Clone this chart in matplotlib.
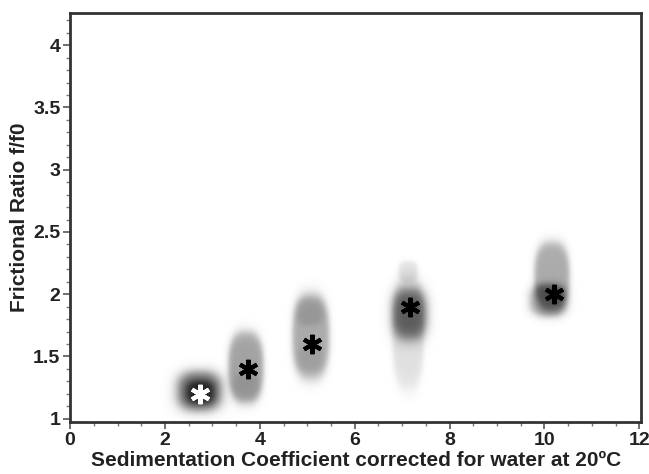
import numpy as np
import matplotlib.pyplot as plt
from matplotlib.ticker import MultipleLocator

# Peak positions (asterisks)
peak_s = [2.74, 3.76, 5.10, 7.17, 10.20]
peak_ff0 = [1.20, 1.40, 1.60, 1.90, 2.00]
peak_color = ['white', 'black', 'black', 'black', 'black']

# Grey density patches: centre s, centre f/f0, half width, half height, darkness, edge softness
blob_s = [2.72, 2.74, 3.70, 3.70, 5.07, 5.05, 5.05, 7.12, 7.12, 7.15, 10.15, 10.08]
blob_ff0 = [1.22, 1.21, 1.41, 1.25, 1.66, 1.86, 1.48, 1.70, 2.18, 1.84, 2.14, 1.95]
blob_w = [0.50, 0.32, 0.40, 0.30, 0.42, 0.32, 0.30, 0.36, 0.22, 0.40, 0.40, 0.42]
blob_h = [0.17, 0.10, 0.31, 0.12, 0.37, 0.12, 0.12, 0.50, 0.09, 0.22, 0.30, 0.14]
blob_level = [0.58, 0.30, 0.36, 0.06, 0.33, 0.08, 0.05, 0.12, 0.09, 0.52, 0.33, 0.37]
blob_soft = [0.14, 0.16, 0.08, 0.10, 0.08, 0.12, 0.12, 0.08, 0.10, 0.14, 0.08, 0.12]

xlim = (0, 12.04)
ylim = (0.975, 4.26)

fig = plt.figure(figsize=(6.49, 4.74), dpi=100)
ax = fig.add_axes([0.108, 0.110, 0.880, 0.863])

# build the grey map on a grid
gx = np.linspace(xlim[0], xlim[1], 800)
gy = np.linspace(ylim[0], ylim[1], 600)
X, Y = np.meshgrid(gx, gy)
D = np.zeros_like(X)
for bx, by, bw, bh, lv, sf in zip(blob_s, blob_ff0, blob_w, blob_h, blob_level, blob_soft):
    r = (np.abs((X - bx) / bw) ** 2.6 + np.abs((Y - by) / bh) ** 2.6) ** (1 / 2.6)
    D += lv / (1 + np.exp((r - 0.92) / sf))
D = np.clip(D, 0, 0.85)

ax.imshow(D, extent=[xlim[0], xlim[1], ylim[0], ylim[1]], origin='lower',
          cmap='gray_r', vmin=0, vmax=1, aspect='auto', interpolation='bilinear')

for s, f, c in zip(peak_s, peak_ff0, peak_color):
    ax.plot(s, f, marker=(6, 2, 0), markersize=14, markeredgewidth=3,
            color=c, linestyle='none')

ax.set_xlim(*xlim)
ax.set_ylim(*ylim)
ax.set_xticks([0, 2, 4, 6, 8, 10, 12])
ax.set_yticks([1, 1.5, 2, 2.5, 3, 3.5, 4])
ax.set_yticklabels(['1', '1.5', '2', '2.5', '3', '3.5', '4'])
ax.xaxis.set_minor_locator(MultipleLocator(0.5))
ax.yaxis.set_minor_locator(MultipleLocator(0.1))
ax.tick_params(which='major', direction='out', length=5, width=1.2, color='#555555',
               labelsize=14, pad=2)
ax.tick_params(which='minor', direction='out', length=3, width=1, color='#777777')
for lab in ax.get_xticklabels() + ax.get_yticklabels():
    lab.set_fontweight('bold')
    lab.set_family('Liberation Sans')
    lab.set_color('#222222')

for sp in ax.spines.values():
    sp.set_linewidth(2)
    sp.set_color('#333333')

ax.set_xlabel('Sedimentation Coefficient corrected for water at 20ºC',
              fontsize=15, fontweight='bold', family='Liberation Sans',
              color='#222222')
ax.xaxis.set_label_coords(0.5, -0.072)
ax.set_ylabel('Frictional Ratio f/f0', fontsize=15, fontweight='bold',
              family='Liberation Sans', labelpad=3, color='#222222')

fig.savefig('out.png', dpi=100)
